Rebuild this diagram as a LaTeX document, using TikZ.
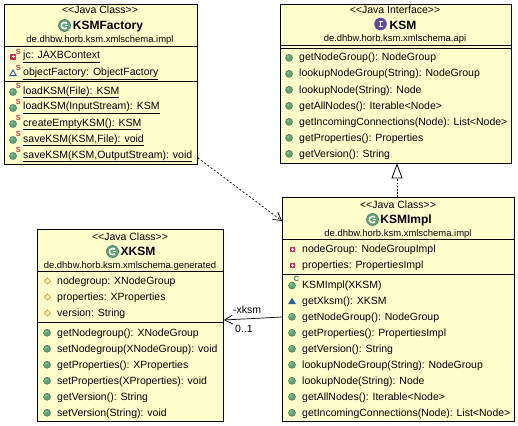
\documentclass[tikz,border=0pt]{standalone}
\usepackage{fontspec}
\setmainfont{Liberation Sans}
\usetikzlibrary{arrows.meta,calc}
\definecolor{boxfill}{RGB}{255,255,204}
\definecolor{ballg}{RGB}{96,165,115}
\definecolor{ballgd}{RGB}{60,120,90}
\definecolor{privr}{RGB}{205,50,80}
\definecolor{protb}{RGB}{40,90,175}
\definecolor{pkgo}{RGB}{200,140,40}
\definecolor{ifacep}{RGB}{95,75,165}
\tikzset{x=1pt,y=-1pt,
 classbox/.style={draw=black,line width=0.9pt,fill=boxfill,inner sep=0pt,anchor=north west},
 divider/.style={draw=black,line width=0.9pt},
 rowtext/.style={inner sep=0pt,anchor=base west,font=\fontsize{10.5}{13}\selectfont},
 stereo/.style={inner sep=0pt,anchor=base,font=\fontsize{10.5}{13}\selectfont},
 cname/.style={inner sep=0pt,anchor=base,font=\fontsize{12}{14}\selectfont\bfseries},
 pkgname/.style={inner sep=0pt,anchor=base,font=\fontsize{9.45}{12}\selectfont},
 assoclabel/.style={inner sep=0pt,anchor=base west,font=\fontsize{10.5}{13}\selectfont},
 realize/.style={draw=black,line width=0.7pt,dash pattern=on 1.6pt off 1.6pt},
 usedep/.style={draw=black,line width=0.7pt,dash pattern=on 2pt off 2pt,-{Straight Barb[length=8pt,width=9pt]}},
 assoc/.style={draw=black,line width=0.7pt,-{Straight Barb[length=8pt,width=9pt]}},
}
\newcommand{\ltlt}{<{}<}
\newcommand{\gtgt}{>{}>}
\newcounter{rowno}
\newcommand{\rowtxt}[3]{\stepcounter{rowno}\node[rowtext] (row\therowno) at (#1,#2+4) {#3};}
\newcommand{\iball}[2]{\fill[ballg,draw=ballgd,line width=0.5pt] (#1,#2) circle[radius=3.5];\fill[white,opacity=.3] (#1-1,#2-1) circle[radius=1.3];}
\newcommand{\ipriv}[2]{\fill[privr] (#1-2.8,#2-2.8) rectangle (#1+2.8,#2+2.8);\fill[white] (#1-1.5,#2-.5) rectangle (#1+1.5,#2+.5);\fill[white] (#1-.5,#2-1.5) rectangle (#1+.5,#2+1.5);}
\newcommand{\iprot}[2]{\fill[protb] (#1-3.8,#2+3) -- (#1,#2-3.5) -- (#1+3.8,#2+3) -- cycle;}
\newcommand{\iprotopen}[2]{\fill[white,draw=protb,line width=0.9pt] (#1-3.2,#2+2.6) -- (#1,#2-3) -- (#1+3.2,#2+2.6) -- cycle;}
\newcommand{\ipkg}[2]{\draw[pkgo,fill=boxfill,line width=0.7pt] (#1-3,#2) -- (#1,#2-3) -- (#1+3,#2) -- (#1,#2+3) -- cycle;}
\newcommand{\isup}[3]{\stepcounter{rowno}\node[inner sep=0pt,text=#3,font=\fontsize{7.5}{8}\selectfont\bfseries] (sup\therowno) at (#1,#2) {S};}
\newcommand{\isupc}[2]{\stepcounter{rowno}\node[inner sep=0pt,text=ballgd,font=\fontsize{7.5}{8}\selectfont\bfseries] (sup\therowno) at (#1,#2) {C};}
\newcommand{\iclass}[2]{\fill[ballg,draw=ballgd,line width=0.6pt] (#1,#2) circle[radius=6];\draw[white,line width=1.5pt] ($(#1,#2)+(40:3.2)$) arc[start angle=40,end angle=320,radius=3.2] ;\draw[white,line width=1.2pt] (#1,#2+.3) -- (#1+3.2,#2+.3);}
\newcommand{\miface}[2]{\fill[ifacep] (#1,#2) circle[radius=6.3];\fill[white] (#1-2,#2-3.3) rectangle (#1+2,#2-2.2);\fill[white] (#1-2,#2+2.2) rectangle (#1+2,#2+3.3);\fill[white] (#1-.8,#2-3) rectangle (#1+.8,#2+3);}
\newcommand{\mrow}[3]{\iball{#1-10}{#2+.8}\rowtxt{#1}{#2}{#3}}
\begin{document}
\begin{tikzpicture}
\useasboundingbox (0,0) rectangle (518,425);
\fill[white] (0,0) rectangle (518,425);

% boxes
\node[classbox,minimum width=193pt,minimum height=160pt] (factory) at (4,4) {};
\node[classbox,minimum width=231.5pt,minimum height=159pt] (ksm) at (279.5,4) {};
\node[classbox,minimum width=232pt,minimum height=224pt] (impl) at (282,197) {};
\node[classbox,minimum width=186pt,minimum height=192pt] (xksm) at (37,229) {};

% KSMFactory
\draw[divider] (factory.west |- 0,46) -- (factory.east |- 0,46);
\draw[divider] (factory.west |- 0,81) -- (factory.east |- 0,81);
\node[stereo] (fs) at (100,14) {\ltlt Java Class\gtgt};
\node[cname] (fn) at (108,30) {KSMFactory};
\iclass{64.5}{25.5}
\node[pkgname] (fp) at (100,43) {de.dhbw.horb.ksm.xmlschema.impl};
\ipriv{13}{57}\isup{18.5}{51.5}{privr}
\rowtxt{23}{55}{\underline{jc: JAXBContext}}
\iprotopen{13}{73}\isup{18.5}{68}{privr}
\rowtxt{23}{72}{\underline{objectFactory: ObjectFactory}}
\iball{13}{92}\isup{18.5}{86}{privr}
\rowtxt{23}{90}{\underline{loadKSM(File): KSM}}
\iball{13}{108}\isup{18.5}{102}{privr}
\rowtxt{23}{106}{\underline{loadKSM(InputStream): KSM}}
\iball{13}{124}\isup{18.5}{118}{privr}
\rowtxt{23}{122}{\underline{createEmptyKSM(): KSM}}
\iball{13}{140}\isup{18.5}{134}{privr}
\rowtxt{23}{138}{\underline{saveKSM(KSM,File): void}}
\iball{13}{156}\isup{18.5}{150}{privr}
\rowtxt{23}{154}{\underline{saveKSM(KSM,OutputStream): void}}

% KSM
\draw[divider] (ksm.west |- 0,45) -- (ksm.east |- 0,45);
\draw[divider] (ksm.west |- 0,48) -- (ksm.east |- 0,48);
\node[stereo] (ks) at (395,14) {\ltlt Java Interface\gtgt};
\node[cname] (kn) at (403,30) {KSM};
\miface{380.5}{24}
\node[pkgname] (kp) at (395,42) {de.dhbw.horb.ksm.xmlschema.api};
\mrow{299}{57}{getNodeGroup(): NodeGroup}
\mrow{299}{73}{lookupNodeGroup(String): NodeGroup}
\mrow{299}{89}{lookupNode(String): Node}
\mrow{299}{105}{getAllNodes(): Iterable<Node>}
\mrow{299}{121}{getIncomingConnections(Node): List<Node>}
\mrow{299}{137}{getProperties(): Properties}
\mrow{299}{153}{getVersion(): String}

% KSMImpl
\draw[divider] (impl.west |- 0,239) -- (impl.east |- 0,239);
\draw[divider] (impl.west |- 0,274) -- (impl.east |- 0,274);
\node[stereo] (is) at (398,208) {\ltlt Java Class\gtgt};
\node[cname] (in) at (406,223.5) {KSMImpl};
\iclass{372.5}{219.5}
\node[pkgname] (ip) at (398,236.5) {de.dhbw.horb.ksm.xmlschema.impl};
\ipriv{292.5}{249.5}\rowtxt{302}{248}{nodeGroup: NodeGroupImpl}
\ipriv{292.5}{265.5}\rowtxt{302}{264}{properties: PropertiesImpl}
\iball{292}{285.5}\isupc{296.5}{278.5}
\rowtxt{302}{284}{KSMImpl(XKSM)}
\iprot{292}{301}\rowtxt{302}{300}{getXksm(): XKSM}
\mrow{302}{316}{getNodeGroup(): NodeGroup}
\mrow{302}{332}{getProperties(): PropertiesImpl}
\mrow{302}{348}{getVersion(): String}
\mrow{302}{364}{lookupNodeGroup(String): NodeGroup}
\mrow{302}{380}{lookupNode(String): Node}
\mrow{302}{396}{getAllNodes(): Iterable<Node>}
\mrow{302}{412}{getIncomingConnections(Node): List<Node>}

% XKSM
\draw[divider] (xksm.west |- 0,271) -- (xksm.east |- 0,271);
\draw[divider] (xksm.west |- 0,322) -- (xksm.east |- 0,322);
\node[stereo] (xs) at (130,240) {\ltlt Java Class\gtgt};
\node[cname] (xn) at (138,255.5) {XKSM};
\iclass{112.5}{251.5}
\node[pkgname] (xp) at (130,268.5) {de.dhbw.horb.ksm.xmlschema.generated};
\ipkg{47.5}{281}\rowtxt{57}{280}{nodegroup: XNodeGroup}
\ipkg{47.5}{297}\rowtxt{57}{296}{properties: XProperties}
\ipkg{47.5}{313}\rowtxt{57}{312}{version: String}
\mrow{57}{332}{getNodegroup(): XNodeGroup}
\mrow{57}{348}{setNodegroup(XNodeGroup): void}
\mrow{57}{364}{getProperties(): XProperties}
\mrow{57}{380}{setProperties(XProperties): void}
\mrow{57}{396}{getVersion(): String}
\mrow{57}{412}{setVersion(String): void}

% connectors
\draw[usedep] ($(factory.south east)+(0,-7)$) -- ($(impl.north west)+(0,24)$);
\draw[realize] ($(impl.north west)+(115,0)$) -- ($(ksm.south west)+(117.5,14)$);
\draw[draw=black,line width=0.8pt,fill=white] ($(ksm.south west)+(117.5,0.5)$) -- ($(ksm.south west)+(112.5,14)$) -- ($(ksm.south west)+(122.5,14)$) -- cycle;
\draw[assoc] ($(impl.north west)+(0,120)$) -- ($(xksm.north east)+(0,91)$);
\node[assoclabel] (lab1) at (233,313) {-xksm};
\node[assoclabel] (lab2) at (235,332) {0..1};
\end{tikzpicture}
\end{document}
